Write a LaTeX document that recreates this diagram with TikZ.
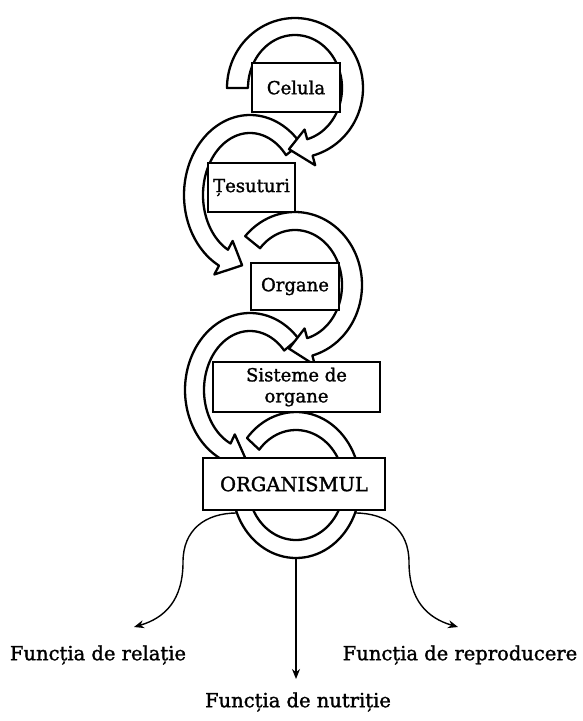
\documentclass[tikz,border=0pt]{standalone}
\usepackage{fontspec}
\setmainfont[FakeBold=1.5]{DejaVu Serif}
\usetikzlibrary{arrows.meta}
\tikzset{
  ringstyle/.style={draw=black,fill=white,line width=2.3pt,line join=round},
  boxstyle/.style={draw=black,fill=white,line width=2.5pt,inner sep=0pt,align=center,
    font=\fontsize{18}{21}\selectfont},
  labelstyle/.style={inner sep=0pt,font=\fontsize{19.5}{23}\selectfont},
  conn/.style={line width=1.4pt,-{Stealth[length=10pt,width=8pt]}}
}
\def\bw{10}
% cx cy rxi ryi rxo ryo tstart tend ttip  (cy in screen pixels, downwards)
\newcommand{\ringband}[9]{%
  \pgfmathsetmacro{\rxm}{(#3+#5)/2}%
  \pgfmathsetmacro{\rym}{(#4+#6)/2}%
  \filldraw[ringstyle] plot[domain=#7:#8,samples=90] ({#1+#5*cos(\x)},{-#2+#6*sin(\x)})
   -- ({#1+(#5+\bw)*cos(#8)},{-#2+(#6+\bw)*sin(#8)})
   -- ({#1+\rxm*cos(#9)},{-#2+\rym*sin(#9)})
   -- ({#1+(#3-\bw)*cos(#8)},{-#2+(#4-\bw)*sin(#8)})
   -- plot[domain=#8:#7,samples=90] ({#1+#3*cos(\x)},{-#2+#4*sin(\x)})
   -- cycle;}
\begin{document}
\begin{tikzpicture}[x=1pt,y=1pt]
\useasboundingbox (0,0) rectangle (583,-721);
% rings, bottom first
{\def\bw{0}\ringband{296}{485}{48}{55}{64}{73}{140}{-195}{-195}}
\ringband{250}{390}{46}{59}{65}{77}{42}{245}{265}
\ringband{295}{285}{47}{55}{67}{73}{138}{-75}{-96}
\ringband{250}{195}{47}{62}{66}{80}{40}{242}{262}
\ringband{295}{88}{47}{53}{68}{70}{180}{-75}{-96}
% boxes
\node[boxstyle,minimum width=88pt,minimum height=49pt] (celula) at (296,-87.5) {Celula};
\node[boxstyle,minimum width=87pt,minimum height=49pt] (tesut) at (251.5,-187.5) {Țesuturi};
\node[boxstyle,minimum width=88pt,minimum height=47pt] (organe) at (295,-286.5) {Organe};
\node[boxstyle,minimum width=167pt,minimum height=50pt,font=\fontsize{18}{21}\selectfont] (sist) at (296.5,-387) {Sisteme de\\organe};
\node[boxstyle,minimum width=182pt,minimum height=52pt,font=\fontsize{19.5}{22}\selectfont] (org) at (294,-484) {ORGANISMUL};
% outputs
\coordinate (sL) at (237,-513);
\coordinate (sR) at (355,-513);
\coordinate (sM) at (296,-558);
\coordinate (tL) at (134,-627);
\coordinate (tR) at (458,-627);
\coordinate (tM) at (296,-679);
\draw[conn] (sL) .. controls (205,-513) and (183,-530) .. (183,-562) .. controls (183,-600) and (165,-618) .. (tL);
\draw[conn] (sR) .. controls (387,-513) and (409,-530) .. (409,-562) .. controls (409,-600) and (427,-618) .. (tR);
\draw[conn] (sM) -- (tM);
\node[labelstyle] (rel) at (98,-655) {Funcția de relație};
\node[labelstyle] (rep) at (460,-655) {Funcția de reproducere};
\node[labelstyle] (nut) at (298,-702) {Funcția de nutriție};
\end{tikzpicture}
\end{document}
